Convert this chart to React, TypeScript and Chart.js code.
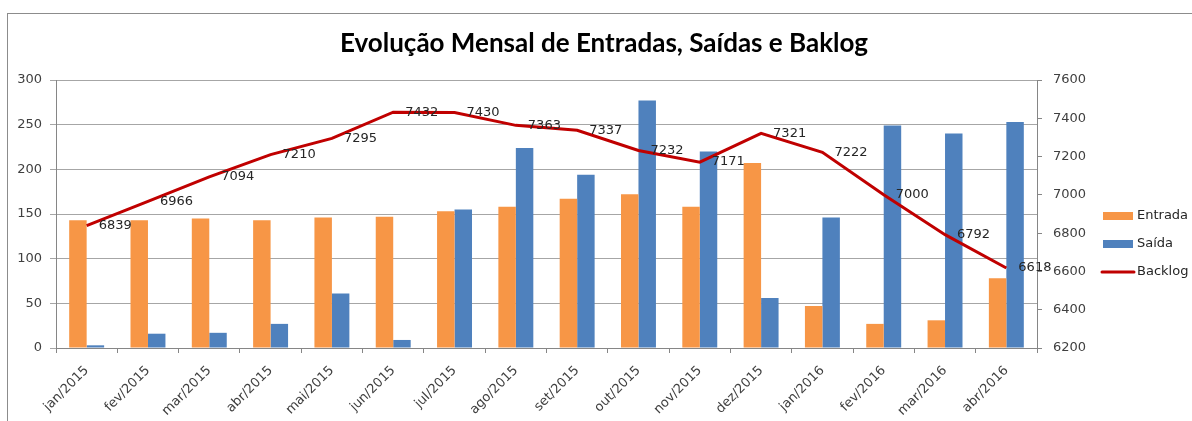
import React, { useEffect, useRef } from "react";
import { Chart, registerables } from "chart.js";

Chart.register(...registerables);

const categories = [
  "jan/2015", "fev/2015", "mar/2015", "abr/2015", "mai/2015", "jun/2015",
  "jul/2015", "ago/2015", "set/2015", "out/2015", "nov/2015", "dez/2015",
  "jan/2016", "fev/2016", "mar/2016", "abr/2016",
];
const entrada = [143, 143, 145, 143, 146, 147, 153, 158, 167, 172, 158, 207, 47, 27, 31, 78];
const saida = [3, 16, 17, 27, 61, 9, 155, 224, 194, 277, 220, 56, 146, 249, 240, 253];
const backlog = [6839, 6966, 7094, 7210, 7295, 7432, 7430, 7363, 7337, 7232, 7171, 7321, 7222, 7000, 6792, 6618];

const titleText = "Evolução Mensal de Entradas, Saídas e Baklog";
const seriesNames = ["Entrada", "Saída", "Backlog"];
const colors = ["#F79646", "#4F81BD", "#C00000"];

const tickFont = { family: "DejaVu Sans", size: 13 };

export default function App() {
  const ref = useRef<HTMLCanvasElement | null>(null);

  useEffect(() => {
    document.body.style.margin = "0";
    if (!ref.current) return;

    const dataLabels = {
      id: "dataLabels",
      afterDatasetsDraw(chart: any) {
        const ctx = chart.ctx;
        const meta = chart.getDatasetMeta(2);
        ctx.save();
        ctx.font = "13px 'DejaVu Sans'";
        ctx.fillStyle = "#262626";
        ctx.textAlign = "left";
        ctx.textBaseline = "middle";
        meta.data.forEach((pt: any, i: number) => {
          ctx.fillText(String(backlog[i]), pt.x + 12, pt.y);
        });
        ctx.restore();
      },
    };

    const customLegend = {
      id: "customLegend",
      afterDraw(chart: any) {
        const ctx = chart.ctx;
        const area = chart.chartArea;
        const x0 = area.right + 66;
        const mid = (area.top + area.bottom) / 2;
        const ys = [mid + 2, mid + 30, mid + 58];
        ctx.save();
        ctx.font = "13px 'DejaVu Sans'";
        ctx.textAlign = "left";
        ctx.textBaseline = "middle";
        seriesNames.forEach((name, i) => {
          const y = ys[i];
          if (i < 2) {
            ctx.fillStyle = colors[i];
            ctx.fillRect(x0, y - 4, 30, 8);
          } else {
            ctx.strokeStyle = colors[i];
            ctx.lineWidth = 3;
            ctx.lineCap = "round";
            ctx.beginPath();
            ctx.moveTo(x0 - 1, y);
            ctx.lineTo(x0 + 31, y);
            ctx.stroke();
          }
          ctx.fillStyle = "#262626";
          ctx.fillText(name, x0 + 34, y);
        });
        ctx.restore();
      },
    };

    const chart = new Chart(ref.current, {
      type: "bar",
      data: {
        labels: categories,
        datasets: [
          {
            type: "bar",
            label: seriesNames[0],
            data: entrada,
            backgroundColor: colors[0],
            yAxisID: "y",
            order: 1,
            categoryPercentage: 0.57,
            barPercentage: 1.0,
          },
          {
            type: "bar",
            label: seriesNames[1],
            data: saida,
            backgroundColor: colors[1],
            yAxisID: "y",
            order: 1,
            categoryPercentage: 0.57,
            barPercentage: 1.0,
          },
          {
            type: "line",
            label: seriesNames[2],
            data: backlog,
            borderColor: colors[2],
            backgroundColor: colors[2],
            borderWidth: 3,
            pointRadius: 0,
            tension: 0,
            yAxisID: "y1",
            order: 0,
          } as any,
        ],
      },
      options: {
        responsive: false,
        animation: false,
        devicePixelRatio: 1,
        layout: { padding: { left: 16, right: 0, top: 0, bottom: 0 } },
        plugins: {
          legend: { display: false },
          tooltip: { enabled: false },
          title: {
            display: true,
            text: titleText,
            color: "#000000",
            font: { family: "Lato", size: 26, weight: "bold" },
            padding: { top: 28, bottom: 20.8 },
          },
        },
        scales: {
          x: {
            type: "category",
            offset: true,
            grid: { offset: true, drawOnChartArea: false, tickLength: 5, color: "#868686" },
            border: { color: "#868686" },
            ticks: {
              minRotation: 45,
              maxRotation: 45,
              font: tickFont,
              color: "#404040",
              padding: 10,
            },
            afterFit: (s: any) => { s.height = 73; },
          },
          y: {
            position: "left",
            min: 0,
            max: 300,
            ticks: { stepSize: 50, font: tickFont, color: "#404040", padding: 8 },
            grid: { color: "#a6a6a6", tickLength: 6 },
            border: { color: "#868686" },
            afterFit: (s: any) => { s.width = 40; },
          },
          y1: {
            position: "right",
            min: 6200,
            max: 7600,
            ticks: {
              stepSize: 200,
              font: tickFont,
              color: "#404040",
              padding: 11,
              callback: (v: any) => String(v),
            },
            grid: { drawOnChartArea: false, tickLength: 5, color: "#868686" },
            border: { color: "#868686" },
            afterFit: (s: any) => { s.width = 155; },
          },
        },
      },
      plugins: [dataLabels, customLegend],
    } as any);

    return () => chart.destroy();
  }, []);

  return (
    <div style={{ position: "fixed", left: 0, top: 0, width: 1192, height: 421, background: "#ffffff" }}>
      <canvas ref={ref} width={1192} height={421} style={{ width: 1192, height: 421, display: "block" }} />
      <div
        style={{
          position: "absolute",
          left: 7,
          top: 13,
          right: 0,
          bottom: 0,
          borderTop: "1px solid #8c8c8c",
          borderLeft: "1px solid #8c8c8c",
          pointerEvents: "none",
        }}
      />
    </div>
  );
}
